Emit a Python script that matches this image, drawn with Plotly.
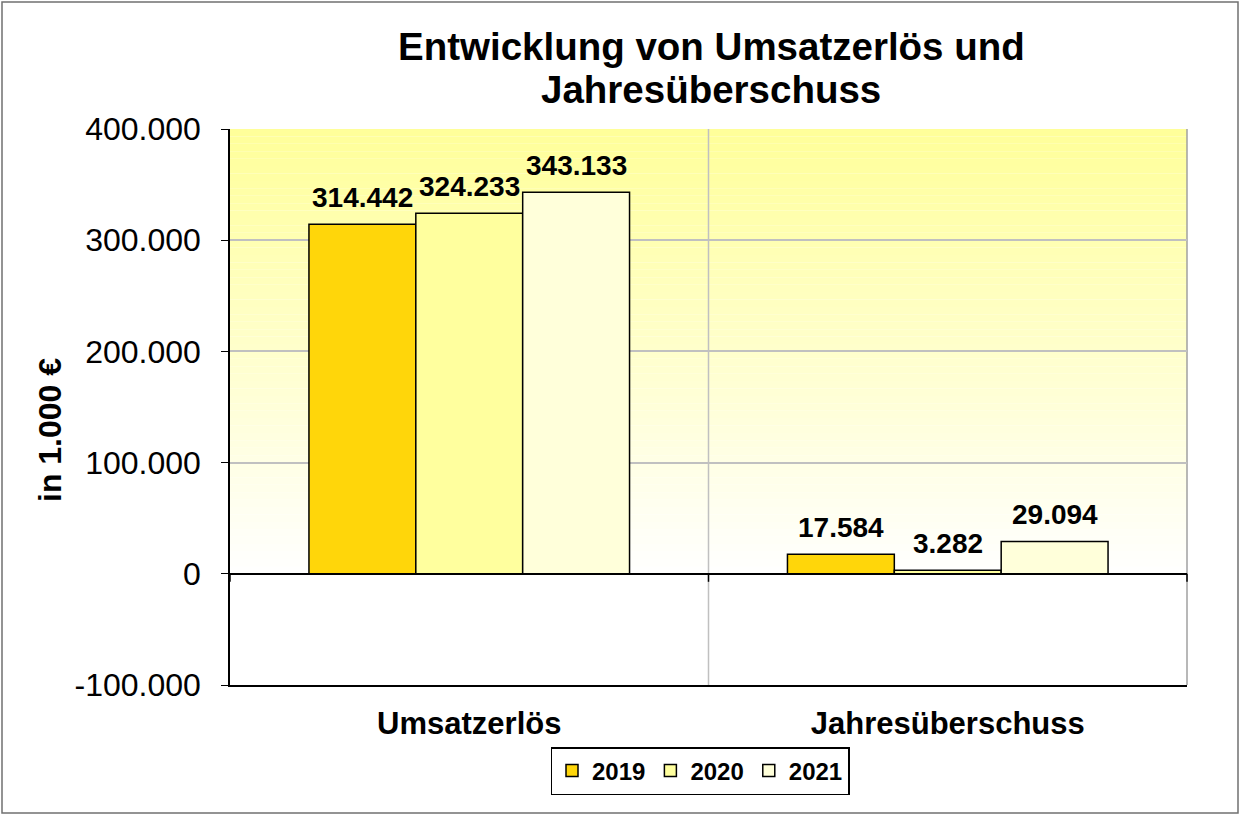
import plotly.graph_objects as go

# ---- data ----
categories = ["Umsatzerlös", "Jahresüberschuss"]
years = ["2019", "2020", "2021"]
values_2019 = [314442, 17584]
values_2020 = [324233, 3282]
values_2021 = [343133, 29094]
tick_values = [-100000, 0, 100000, 200000, 300000, 400000]
tick_labels = ["-100.000", "0", "100.000", "200.000", "300.000", "400.000"]

series = [values_2019, values_2020, values_2021]
bar_colors = ["#FFD60A", "#FFFF9E", "#FFFFDA"]

FONT = "Arial, Liberation Sans, sans-serif"
W, H = 1245, 816
L, R, T, B = 230, 58, 129, 131
PW, PH = W - L - R, H - T - B
BARGAP = 0.33


def px_x(px):
    return (px - L) / PW


def px_y(py):
    return (H - B - py) / PH


def de_fmt(v):
    return f"{v:,.0f}".replace(",", ".")


fig = go.Figure()
for name, vals, col in zip(years, series, bar_colors):
    fig.add_trace(go.Bar(
        name=name, x=categories, y=vals,
        marker=dict(color=col, line=dict(color="black", width=1.5)),
    ))

# data labels
bar_px = (PW / len(categories)) * (1 - BARGAP) / len(years)
annotations = []
for i, vals in enumerate(series):
    for c, v in zip(categories, vals):
        annotations.append(dict(
            x=c, y=v, xref="x", yref="y", text=de_fmt(v),
            showarrow=False, yanchor="bottom", xanchor="center",
            xshift=(i - 1) * bar_px, yshift=9,
            font=dict(family=FONT, size=28, color="black", weight="bold"),
        ))

# title lines
annotations.append(dict(
    x=px_x(711), y=px_y(46), xref="paper", yref="paper",
    text="<b>Entwicklung von Umsatzerlös und</b>", showarrow=False,
    xanchor="center", yanchor="middle",
    font=dict(family=FONT, size=38.5, color="black")))
annotations.append(dict(
    x=px_x(711), y=px_y(89), xref="paper", yref="paper",
    text="<b>Jahresüberschuss</b>", showarrow=False,
    xanchor="center", yanchor="middle",
    font=dict(family=FONT, size=38.5, color="black")))

# y axis title
annotations.append(dict(
    x=px_x(50), y=px_y(430), xref="paper", yref="paper",
    text="<b>in 1.000 €</b>", showarrow=False, textangle=-90,
    xanchor="center", yanchor="middle",
    font=dict(family=FONT, size=32, color="black")))

# gradient background (yellow at top -> white at zero)
shapes = []
n_steps = 60
top_rgb = (255, 255, 153)
for k in range(n_steps):
    y0 = 400000 * k / n_steps
    y1 = 400000 * (k + 1) / n_steps
    f = (k + 0.5) / n_steps
    rgb = tuple(round(255 + (c - 255) * f) for c in top_rgb)
    shapes.append(dict(
        type="rect", xref="paper", yref="y", x0=0, x1=1, y0=y0, y1=y1,
        fillcolor="rgb(%d,%d,%d)" % rgb, line=dict(width=0), layer="below"))

# category separator and right border
shapes.append(dict(type="line", xref="paper", yref="paper", x0=0.5, x1=0.5,
                   y0=0, y1=1, line=dict(color="#C0C0C0", width=1.5), layer="between"))
shapes.append(dict(type="line", xref="paper", yref="paper", x0=1, x1=1,
                   y0=0, y1=1, line=dict(color="#A0A0A0", width=1.5), layer="between"))
# category axis ticks on the zero line
for xp in [0, 0.5, 1]:
    shapes.append(dict(type="line", xref="paper", yref="y", ysizemode="pixel",
                       yanchor=0, x0=xp, x1=xp, y0=0, y1=-8,
                       line=dict(color="black", width=1.5)))
# outer frame
shapes.append(dict(type="rect", xref="paper", yref="paper",
                   x0=px_x(2), x1=px_x(1238), y0=px_y(813), y1=px_y(2),
                   line=dict(color="#707070", width=1.5), fillcolor="rgba(0,0,0,0)"))

fig.update_layout(
    width=W, height=H,
    margin=dict(l=L, r=R, t=T, b=B, pad=0),
    paper_bgcolor="white", plot_bgcolor="white",
    barmode="group", bargap=BARGAP, bargroupgap=0,
    font=dict(family=FONT, color="black"),
    showlegend=True,
    legend=dict(
        orientation="h", x=px_x(700), xanchor="center", y=px_y(747), yanchor="top",
        bordercolor="black", borderwidth=1.5, bgcolor="white",
        font=dict(family=FONT, size=24, color="black", weight="bold"),
        traceorder="normal",
    ),
    xaxis=dict(
        showline=True, linecolor="black", linewidth=1.5,
        showgrid=False, ticks="", ticklabelstandoff=10,
        tickfont=dict(family=FONT, size=31, color="black", weight="bold"),
        fixedrange=True,
    ),
    yaxis=dict(
        range=[-100000, 400000], tickvals=tick_values, ticktext=tick_labels,
        showline=True, linecolor="black", linewidth=1.5,
        ticks="outside", ticklen=7, tickcolor="black", tickwidth=1,
        ticklabelstandoff=14,
        showgrid=True, gridcolor="#C0C0C0", gridwidth=1.5,
        zeroline=True, zerolinecolor="black", zerolinewidth=1.5,
        tickfont=dict(family=FONT, size=32, color="black"),
        fixedrange=True,
    ),
    annotations=annotations,
    shapes=shapes,
)

fig.write_html("out.html")
